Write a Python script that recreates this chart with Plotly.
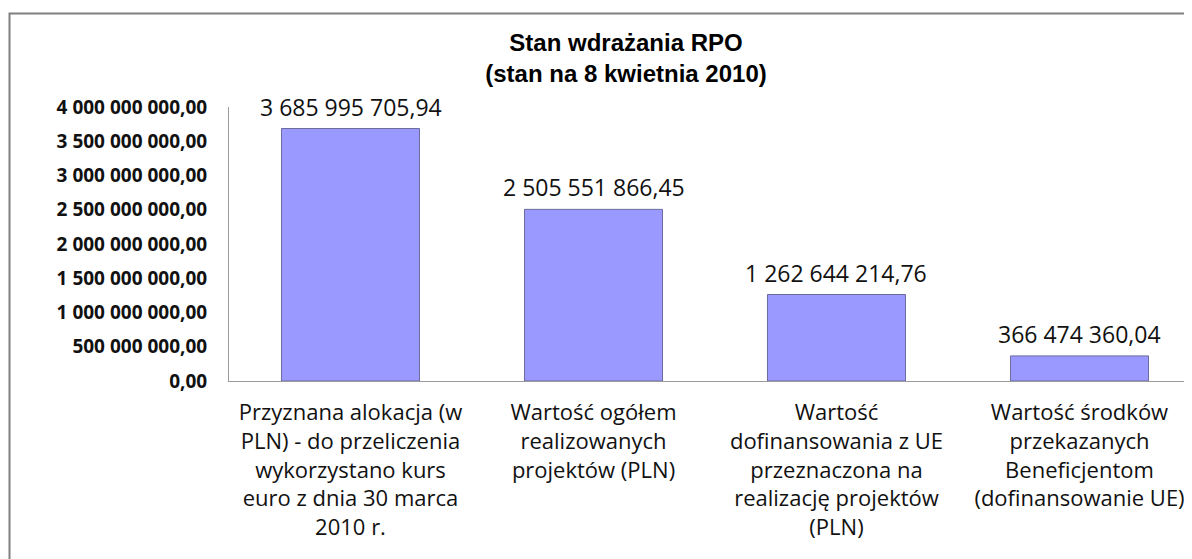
import plotly.graph_objects as go

categories = [
    "Przyznana alokacja (w<br>PLN) - do przeliczenia<br>wykorzystano kurs<br>euro z dnia 30 marca<br>2010 r.",
    "Wartość ogółem<br>realizowanych<br>projektów (PLN)",
    "Wartość<br>dofinansowania z UE<br>przeznaczona na<br>realizację projektów<br>(PLN)",
    "Wartość środków<br>przekazanych<br>Beneficjentom<br>(dofinansowanie UE)",
]
values = [3685995705.94, 2505551866.45, 1262644214.76, 366474360.04]
y_ticks = [0, 500e6, 1000e6, 1500e6, 2000e6, 2500e6, 3000e6, 3500e6, 4000e6]


def fmt(v):
    return f"{v:,.2f}".replace(",", " ").replace(".", ",")


x_idx = list(range(len(categories)))

# page body offset of 8px compensated in margins
OFF = 8
L, T, AXIS_Y = 229 - OFF, 107 - OFF, 381 - OFF
W, H = 1192, 559
plot_w = 1192 - 229
plot_h = 381 - 107

fig = go.Figure()
fig.add_trace(go.Bar(
    x=x_idx, y=values, width=0.568,
    marker=dict(color="#9999FF", line=dict(color="#6b6b9e", width=1)),
    hoverinfo="skip",
))

for i, v in zip(x_idx, values):
    fig.add_annotation(x=i, y=v, text=fmt(v), showarrow=False, yshift=22,
                       font=dict(family="Open Sans", size=23, color="#111"))

fig.update_layout(
    width=W, height=H,
    margin=dict(l=L, r=W - L - plot_w, t=T, b=H - AXIS_Y),
    paper_bgcolor="white", plot_bgcolor="white",
    showlegend=False,
    title=dict(text="Stan wdrażania RPO<br>(stan na 8 kwietnia 2010)",
               x=(626 - 229) / plot_w, xref="paper", xanchor="center",
               y=1 - 43 / H, yref="container", yanchor="top",
               font=dict(family="Liberation Sans", size=24, color="black", weight="bold")),
    xaxis=dict(range=[-0.5, 3.463], tickvals=x_idx, ticktext=categories,
               showline=True, linecolor="#9a9a9a", linewidth=1, ticks="",
               showgrid=False, zeroline=False, ticklabelstandoff=12,
               tickfont=dict(family="Open Sans", size=22, color="#111")),
    yaxis=dict(range=[0, 4e9], tickvals=y_ticks, ticktext=[fmt(t) for t in y_ticks],
               showline=True, linecolor="#9a9a9a", linewidth=1, ticks="",
               showgrid=False, zeroline=False, ticklabelstandoff=17,
               tickfont=dict(family="Open Sans", size=19, color="#111", weight="bold")),
)

# outer chart border
fig.add_shape(type="rect", xref="paper", yref="paper",
              x0=(9.5 - 229) / plot_w, x1=1.05,
              y0=-0.8, y1=(381 - 13.5) / plot_h,
              line=dict(color="#808080", width=2), layer="below")

fig.write_html("out.html")
